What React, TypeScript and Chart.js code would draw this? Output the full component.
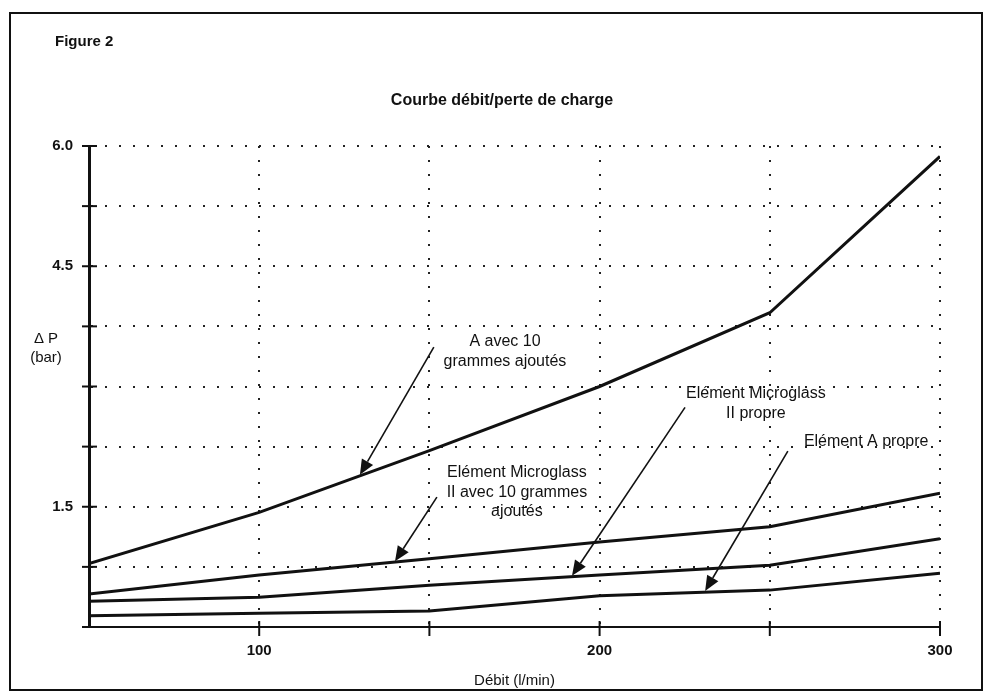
import React, { useEffect, useRef } from "react";
import { Chart, registerables } from "chart.js";

Chart.register(...registerables);

// ---- data ----
const flowRates = [50, 100, 150, 200, 250, 300];
const seriesA10g = [0.79, 1.43, 2.2, 3.0, 3.92, 5.87];
const seriesMicroglass10g = [0.41, 0.65, 0.85, 1.06, 1.25, 1.67];
const seriesMicroglassClean = [0.32, 0.37, 0.52, 0.65, 0.77, 1.1];
const seriesAClean = [0.14, 0.17, 0.2, 0.39, 0.46, 0.67];
const xTickLabels = [100, 200, 300];
const yTickLabels = [6.0, 4.5, 1.5];

const figureLabel = "Figure 2";
const chartTitle = "Courbe débit/perte de charge";
const xAxisTitle = "Débit (l/min)";
const yAxisTitle = ["\u0394 P", "(bar)"];

// annotations: text lines, text anchor (data coords), arrow start & tip (data coords)
const noteTexts = [
  ["A avec 10", "grammes ajoutés"],
  ["Elément Microglass", "II avec 10 grammes", "ajoutés"],
  ["Elément Microglass", "II propre"],
  ["Elément A propre"],
];
const noteTextX = [172.2, 175.7, 245.9, 278.3];
const noteTextY = [3.555, 1.92, 2.91, 2.31];
const arrowFromX = [151.3, 152.2, 225.1, 255.3];
const arrowFromY = [3.49, 1.62, 2.74, 2.195];
const arrowToX = [129.6, 139.9, 191.9, 231];
const arrowToY = [1.9, 0.82, 0.64, 0.45];

const FONT = "'Liberation Sans', Arial, Helvetica, sans-serif";
const INK = "#111";

const overlayPlugin = {
  id: "overlay",
  afterDraw(chart: any) {
    const { ctx } = chart;
    const xs = chart.scales.x;
    const ys = chart.scales.y;
    const area = chart.chartArea;
    ctx.save();

    // frame
    ctx.strokeStyle = INK;
    ctx.lineWidth = 2;
    ctx.strokeRect(10, 13, 972, 677);

    // figure label & title
    ctx.fillStyle = INK;
    ctx.textBaseline = "middle";
    ctx.textAlign = "left";
    ctx.font = `bold 15px ${FONT}`;
    ctx.fillText(figureLabel, 55, 42);
    ctx.textAlign = "center";
    ctx.font = `bold 16px ${FONT}`;
    ctx.fillText(chartTitle, 502, 101);

    // y axis title
    ctx.font = `15px ${FONT}`;
    ctx.fillText(yAxisTitle[0], 46, 339);
    ctx.fillText(yAxisTitle[1], 46, 358);

    // tick crosses on axes
    ctx.strokeStyle = INK;
    ctx.lineWidth = 2;
    ctx.setLineDash([]);
    ys.ticks.forEach((t: any) => {
      const y = ys.getPixelForValue(t.value);
      ctx.beginPath();
      ctx.moveTo(area.left - 7, y);
      ctx.lineTo(area.left + 8, y);
      ctx.stroke();
    });
    xs.ticks.forEach((t: any) => {
      if (t.value === xs.min) return;
      const x = xs.getPixelForValue(t.value);
      ctx.beginPath();
      ctx.moveTo(x, area.bottom - 6);
      ctx.lineTo(x, area.bottom + 9);
      ctx.stroke();
    });

    // annotations
    ctx.font = `16px ${FONT}`;
    ctx.textAlign = "center";
    ctx.textBaseline = "middle";
    noteTexts.forEach((lines, i) => {
      const cx = xs.getPixelForValue(noteTextX[i]);
      const cy = ys.getPixelForValue(noteTextY[i]);
      lines.forEach((ln, j) => ctx.fillText(ln, cx, cy + j * 19.5));

      const x1 = xs.getPixelForValue(arrowFromX[i]);
      const y1 = ys.getPixelForValue(arrowFromY[i]);
      const x2 = xs.getPixelForValue(arrowToX[i]);
      const y2 = ys.getPixelForValue(arrowToY[i]);
      const ang = Math.atan2(y2 - y1, x2 - x1);
      const headLen = 15;
      const headW = 6.5;
      const bx = x2 - headLen * Math.cos(ang);
      const by = y2 - headLen * Math.sin(ang);
      ctx.lineWidth = 1.6;
      ctx.beginPath();
      ctx.moveTo(x1, y1);
      ctx.lineTo(bx, by);
      ctx.stroke();
      ctx.beginPath();
      ctx.moveTo(x2, y2);
      ctx.lineTo(bx + headW * Math.sin(ang), by - headW * Math.cos(ang));
      ctx.lineTo(bx - headW * Math.sin(ang), by + headW * Math.cos(ang));
      ctx.closePath();
      ctx.fill();
    });

    ctx.restore();
  },
};

export default function App() {
  const ref = useRef<HTMLCanvasElement | null>(null);
  useEffect(() => {
    if (!ref.current) return;
    const mk = (data: number[]) => ({
      data: flowRates.map((x, i) => ({ x, y: data[i] })),
      borderColor: INK,
      borderWidth: 3,
      pointRadius: 0,
      tension: 0,
      fill: false,
    });
    const chart = new Chart(ref.current, {
      type: "line",
      data: {
        datasets: [
          { label: "A avec 10 grammes ajoutés", ...mk(seriesA10g) },
          { label: "Elément Microglass II avec 10 grammes ajoutés", ...mk(seriesMicroglass10g) },
          { label: "Elément Microglass II propre", ...mk(seriesMicroglassClean) },
          { label: "Elément A propre", ...mk(seriesAClean) },
        ],
      },
      options: {
        animation: false,
        responsive: false,
        maintainAspectRatio: false,
        devicePixelRatio: 1,
        layout: { padding: { left: 0, top: 146, right: 47, bottom: 0 } },
        plugins: {
          legend: { display: false },
          tooltip: { enabled: false },
          title: { display: false },
        },
        scales: {
          x: {
            type: "linear",
            min: 50,
            max: 300,
            ticks: {
              stepSize: 50,
              autoSkip: false,
              maxRotation: 0,
              padding: 15,
              color: INK,
              font: { family: FONT, size: 15, weight: "bold" },
              callback: (v: any) => (xTickLabels.includes(Number(v)) ? String(v) : ""),
            },
            grid: { color: "#222", lineWidth: 2, drawTicks: false },
            border: { display: true, color: INK, width: 2, dash: [2, 12] },
            title: {
              display: true,
              text: xAxisTitle,
              color: INK,
              font: { family: FONT, size: 15 },
              padding: { top: 0, bottom: 10 },
            },
            afterFit: (s: any) => {
              s.height = 73;
            },
          },
          y: {
            type: "linear",
            min: 0,
            max: 6,
            ticks: {
              stepSize: 0.75,
              autoSkip: false,
              padding: 16,
              color: INK,
              font: { family: FONT, size: 15, weight: "bold" },
              callback: (v: any) => {
                const n = Number(v);
                return yTickLabels.some((t) => Math.abs(t - n) < 1e-6) ? n.toFixed(1) : "";
              },
            },
            grid: { color: "#222", lineWidth: 2, drawTicks: false },
            border: { display: true, color: INK, width: 3, dash: [2, 12] },
            afterFit: (s: any) => {
              s.width = 89;
            },
          },
        },
      },
      plugins: [overlayPlugin],
    } as any);
    return () => chart.destroy();
  }, []);

  return (
    <div style={{ position: "absolute", left: 0, top: 0, width: 987, height: 700, background: "#fff" }}>
      <canvas ref={ref} width={987} height={700} style={{ width: 987, height: 700, display: "block" }} />
    </div>
  );
}
